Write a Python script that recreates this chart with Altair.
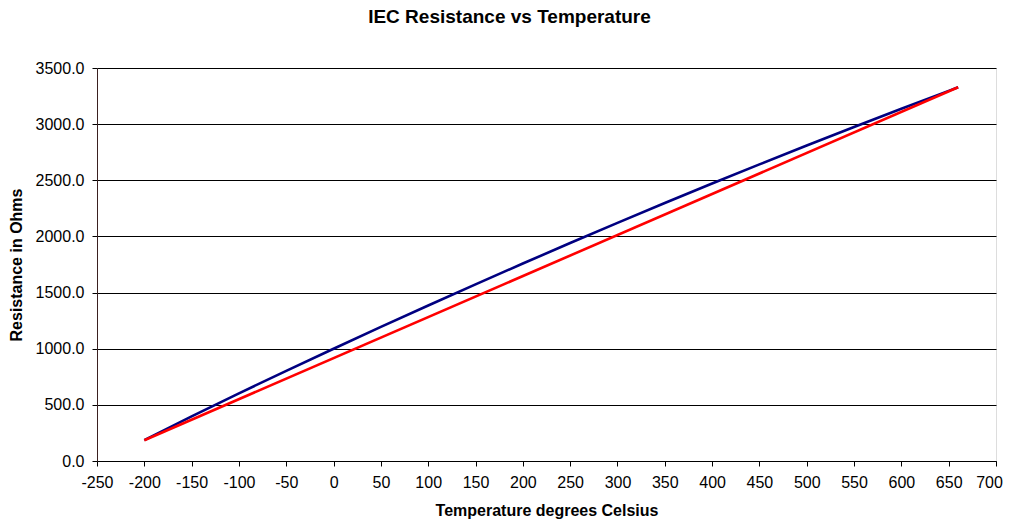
import altair as alt
import pandas as pd

# Blue curve: IEC resistance (Ohms) at temperatures (deg C)
temps = [-200, -150, -100, -50, 0, 50, 100, 150, 200, 250, 300, 350, 400, 450, 500, 550, 600, 650, 660]
resist = [185.2, 397.1, 602.6, 803.1, 1000.0, 1194.0, 1385.1, 1573.3, 1758.6, 1941.0, 2120.5,
          2297.2, 2470.9, 2641.8, 2809.8, 2974.9, 3137.1, 3296.5, 3328.0]

# Red straight line between end points
line_temps = [-200, 660]
line_resist = [185.2, 3328.0]

x_ticks = list(range(-250, 701, 50))
y_ticks = list(range(0, 3501, 500))

blue_df = pd.DataFrame({"t": temps, "r": resist})
red_df = pd.DataFrame({"t": line_temps, "r": line_resist})

FONT = "Liberation Sans"

x_enc = alt.X(
    "t:Q",
    scale=alt.Scale(domain=[-250, 700], nice=False, zero=False),
    axis=alt.Axis(
        values=x_ticks, labelExpr="toString(datum.value)", title="Temperature degrees Celsius",
        grid=False, domainColor="#000000", tickColor="#000000", tickSize=5,
        labelFontSize=16, labelColor="#000000", labelFont=FONT, labelPadding=8,
        labelFlush=False, labelOverlap=False,
        labelOffset={"condition": {"test": "datum.value == 700", "value": -7}, "value": 0},
        titleFont=FONT, titleFontSize=16, titleFontWeight="bold", titleColor="#000000",
        titlePadding=12,
    ),
)
y_enc = alt.Y(
    "r:Q",
    scale=alt.Scale(domain=[0, 3500], nice=False),
    axis=alt.Axis(
        values=y_ticks, format=".1f", title="Resistance in Ohms",
        grid=True, gridColor="#000000", gridWidth=1,
        domainColor="#3a2020", tickColor="#000000", tickSize=5,
        labelFontSize=16, labelColor="#000000", labelFont=FONT, labelPadding=8,
        labelFlush=False, labelOverlap=False,
        titleFont=FONT, titleFontSize=16, titleFontWeight="bold", titleColor="#000000",
        titlePadding=11,
    ),
)

blue = alt.Chart(blue_df).mark_line(color="#000080", strokeWidth=2.6, interpolate="monotone").encode(x=x_enc, y=y_enc)
red = alt.Chart(red_df).mark_line(color="#ff0000", strokeWidth=2.6).encode(x=x_enc, y=y_enc)

chart = (
    alt.layer(blue, red)
    .properties(
        width=899,
        height=393,
        padding={"left": 89, "top": 60, "right": 7, "bottom": 59},
        autosize=alt.AutoSizeParams(type="none"),
        title=alt.TitleParams(
            "IEC Resistance vs Temperature", font=FONT, fontSize=19, fontWeight="bold",
            color="#000000", anchor="middle", dx=-37, offset=33,
        ),
    )
    .configure_view(stroke="#a08080", strokeWidth=1.5)
    .configure(background="#ffffff")
)

chart.save("out.html", embed_options={"renderer": "svg", "actions": False})
